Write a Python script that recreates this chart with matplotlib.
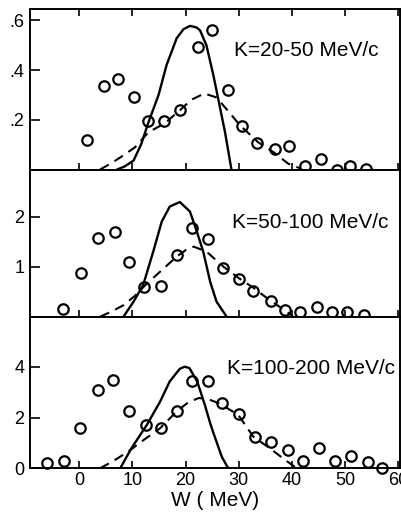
import matplotlib
matplotlib.use("Agg")
import matplotlib.pyplot as plt

plt.rcParams['font.family'] = ['Liberation Sans', 'DejaVu Sans']

# ---- data ----
labels = ["K=20-50 MeV/c", "K=50-100 MeV/c", "K=100-200 MeV/c"]

# panel 1 (K = 20-50)
pts1_x = [1.5, 4.7, 7.2, 10.2, 12.9, 16.0, 19.0, 22.3, 25.0, 28.0, 30.6, 33.5, 36.8, 39.5, 42.5, 45.4, 48.4, 50.9, 53.9]
pts1_y = [0.12, 0.335, 0.364, 0.291, 0.194, 0.194, 0.241, 0.494, 0.562, 0.319, 0.175, 0.108, 0.081, 0.093, 0.016, 0.042, 0.0, 0.013, 0.003]
sol1_x = [7.1, 8.5, 10.2, 11.6, 13.0, 14.9, 16.4, 18.3, 19.6, 20.8, 22.0, 22.7, 23.9, 25.2, 26.1, 27.4, 28.6]
sol1_y = [0.0, 0.012, 0.036, 0.10, 0.19, 0.30, 0.42, 0.528, 0.565, 0.578, 0.572, 0.56, 0.50, 0.38, 0.286, 0.15, 0.0]
dsh1_x = [3.9, 6.0, 8.3, 10.5, 13.0, 16.0, 18.9, 21.0, 23.5, 25.8, 28.0, 30.2, 33.6, 36.5, 39.3, 41.5]
dsh1_y = [0.0, 0.025, 0.057, 0.09, 0.15, 0.185, 0.238, 0.28, 0.306, 0.29, 0.235, 0.178, 0.11, 0.07, 0.023, 0.005]

# panel 2 (K = 50-100)
pts2_x = [-3.0, 0.26, 3.5, 6.7, 9.4, 12.2, 15.4, 18.3, 21.2, 24.2, 27.1, 30.0, 32.7, 36.0, 38.7, 41.5, 44.6, 47.6, 50.4, 53.6]
pts2_y = [0.16, 0.88, 1.58, 1.69, 1.10, 0.60, 0.62, 1.24, 1.78, 1.56, 0.97, 0.76, 0.52, 0.31, 0.14, 0.10, 0.20, 0.10, 0.10, 0.04]
sol2_x = [8.3, 10.2, 12.0, 13.9, 15.5, 17.0, 18.9, 20.8, 22.1, 23.3, 24.6, 25.8, 27.7]
sol2_y = [0.0, 0.30, 0.63, 1.3, 1.9, 2.2, 2.29, 2.1, 1.70, 1.3, 0.70, 0.30, 0.0]
dsh2_x = [3.9, 6.0, 8.3, 10.5, 12.4, 15.2, 18.3, 20.0, 21.5, 23.9, 27.1, 30.0, 32.7, 35.8, 39.0, 40.2]
dsh2_y = [0.0, 0.1, 0.23, 0.42, 0.63, 0.90, 1.2, 1.33, 1.4, 1.30, 1.0, 0.77, 0.58, 0.33, 0.1, 0.0]

# panel 3 (K = 100-200)
pts3_x = [-6.0, -2.8, 0.1, 3.5, 6.4, 9.3, 12.5, 15.3, 18.4, 21.1, 24.2, 26.9, 30.0, 33.1, 36.0, 39.3, 42.1, 45.1, 48.1, 51.1, 54.2, 57.0]
pts3_y = [0.22, 0.29, 1.58, 3.09, 3.46, 2.24, 1.71, 1.58, 2.24, 3.42, 3.42, 2.57, 2.13, 1.25, 1.05, 0.72, 0.29, 0.79, 0.30, 0.49, 0.26, 0.03]
sol3_x = [7.7, 9.8, 12.7, 15.2, 17.0, 18.9, 19.8, 20.7, 22.2, 23.6, 24.6, 25.2, 26.8, 28.0]
sol3_y = [0.0, 0.79, 1.71, 2.63, 3.42, 3.92, 4.0, 3.95, 3.4, 2.5, 1.78, 1.4, 0.45, 0.0]
dsh3_x = [3.9, 6.5, 9.2, 12.0, 15.2, 18.3, 20.5, 22.5, 24.5, 26.4, 29.9, 32.7, 35.8, 38.7, 40.9]
dsh3_y = [0.0, 0.3, 0.66, 1.1, 1.58, 2.24, 2.6, 2.77, 2.7, 2.55, 2.1, 1.25, 0.79, 0.33, 0.0]

yticks = [[0.2, 0.4, 0.6], [1, 2], [0, 2, 4]]
yticklabels = [[".2", ".4", ".6"], ["1", "2"], ["0", "2", "4"]]
ylims = [0.646, 2.94, 5.97]
xticks = [0, 10, 20, 30, 40, 50, 60]
xticklabels = ["0", "10", "20", "30", "40", "50", "60"]
xlabel = "W ( MeV)"

panels = [(pts1_x, pts1_y, sol1_x, sol1_y, dsh1_x, dsh1_y),
          (pts2_x, pts2_y, sol2_x, sol2_y, dsh2_x, dsh2_y),
          (pts3_x, pts3_y, sol3_x, sol3_y, dsh3_x, dsh3_y)]

# ---- layout ----
W, H = 401, 512
fig = plt.figure(figsize=(W / 100, H / 100), dpi=100)
left = 30 / W
right = 399.5 / W
edges = [9, 169.5, 316.7, 468.3]
label_pos = [(306, 50), (310, 222), (311, 368)]

for i, (px, py, sx, sy, dx, dy) in enumerate(panels):
    top = 1 - edges[i] / H
    bot = 1 - edges[i + 1] / H
    ax = fig.add_axes([left, bot, right - left, top - bot])
    ax.set_xlim(-9.27, 60.2)
    ax.set_ylim(0, ylims[i])
    ax.plot(sx, sy, color='black', lw=1.7, solid_capstyle='round', zorder=2)
    ax.plot(dx, dy, color='black', lw=1.5, linestyle=(0, (4.8, 3.2)), zorder=2)
    ax.plot(px, py, linestyle='none', marker='o', ms=7.5, mfc='none',
            mec='black', mew=1.6, zorder=3, clip_on=False)
    for s in ax.spines.values():
        s.set_linewidth(1.4)
    ax.set_yticks(yticks[i])
    ax.set_yticklabels(yticklabels[i], fontsize=13)
    ax.set_xticks(xticks)
    ax.tick_params(axis='y', direction='in', length=7, width=1.2, pad=4)
    ax.tick_params(axis='x', direction='in', length=5, width=1.2,
                   top=(i == 0), bottom=True, pad=3)
    if i == 2:
        ax.set_xticklabels(xticklabels, fontsize=13)
        ax.set_xlabel(xlabel, fontsize=15, labelpad=1)
    else:
        ax.set_xticklabels([])
    lx, ly = label_pos[i]
    fig.text(lx / W, 1 - ly / H, labels[i], fontsize=15, ha='center', va='center')

fig.savefig("out.png", dpi=100)
